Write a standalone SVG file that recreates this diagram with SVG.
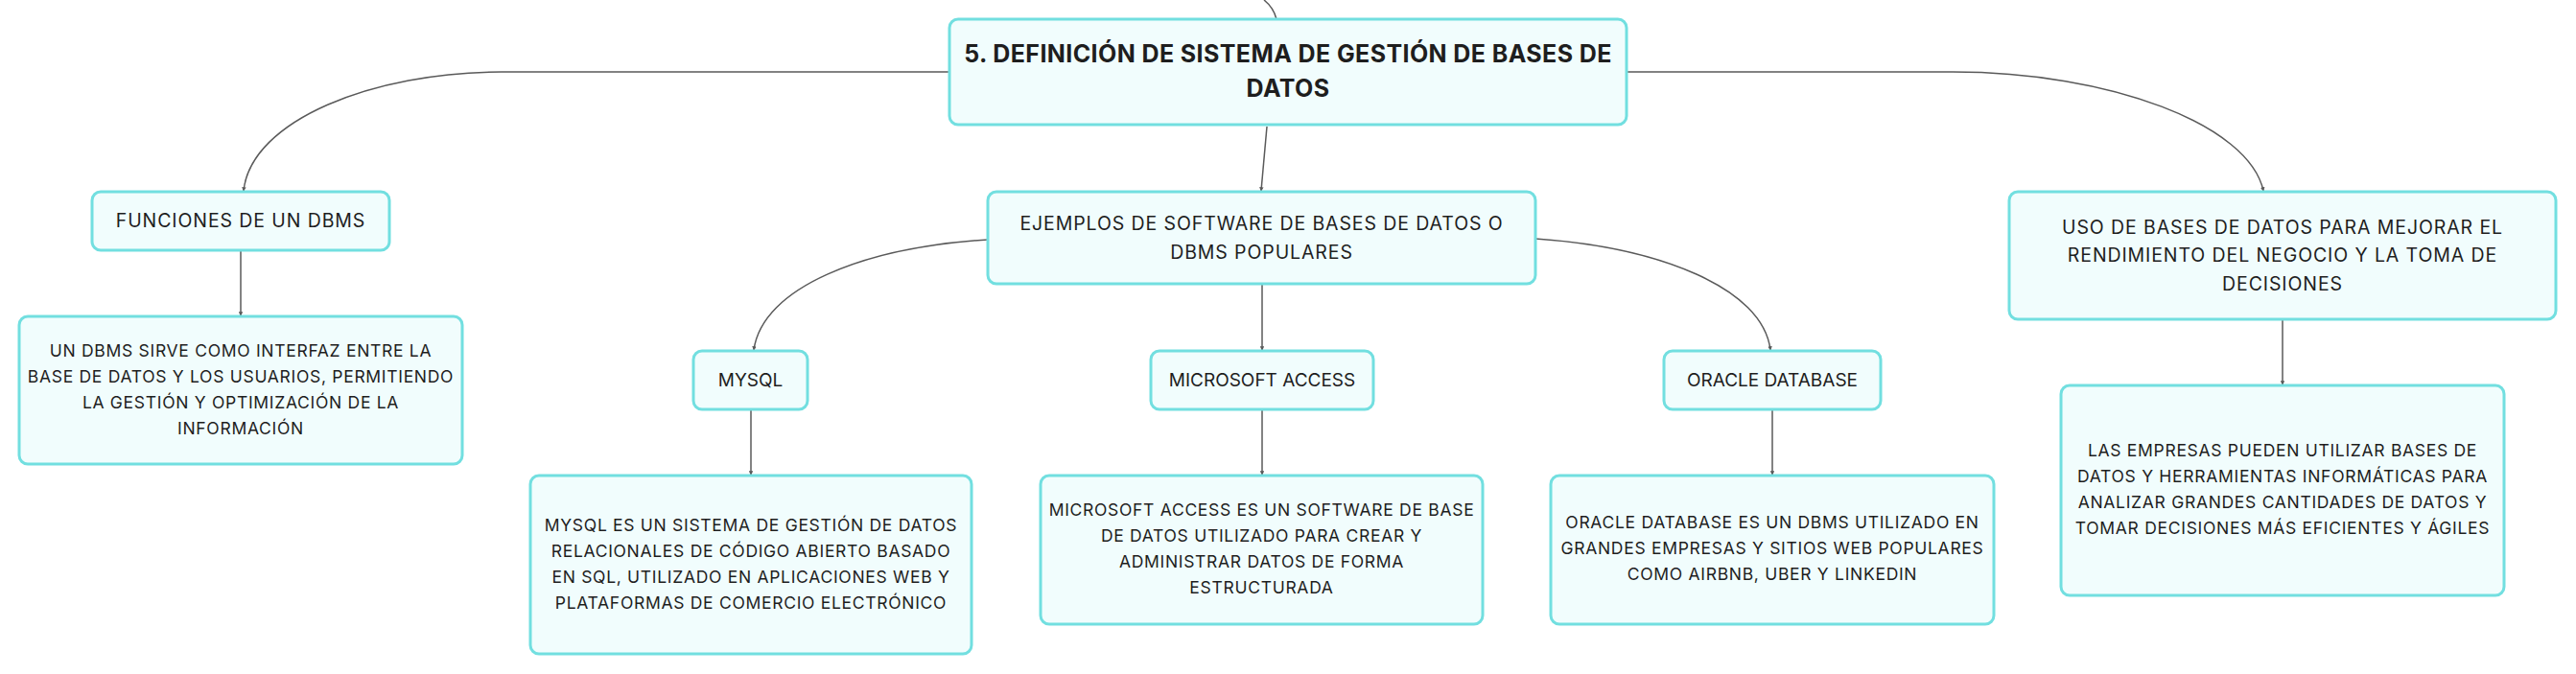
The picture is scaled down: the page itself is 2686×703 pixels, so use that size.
<svg xmlns="http://www.w3.org/2000/svg" width="2686" height="703" viewBox="0 0 2686 703">
<style>
.node rect{fill:#f1fdfd;stroke:#72dfe0;stroke-width:3}
text{font-family:Inter,"Open Sans","DejaVu Sans",sans-serif;fill:#1e1e1e;text-anchor:middle}
.title{font-weight:700;font-size:25px;letter-spacing:0.4px}
.l1{font-size:19.5px;letter-spacing:0.9px}
.l2{font-size:19px}
.d{font-size:17.5px;letter-spacing:0.7px}
.conn path{fill:none;stroke:#5a5a5a;stroke-width:1.5}
</style>
<defs>
<marker id="ah" viewBox="0 0 6 6" refX="5" refY="3" markerWidth="3" markerHeight="3" orient="auto" markerUnits="strokeWidth">
<path d="M0,0 L6,3 L0,6 z" fill="#5a5a5a"/>
</marker>
</defs>
<rect width="2686" height="703" fill="#ffffff"/>
<g id="connectors" class="conn">
<path d="M1318,0 Q1328,8 1331,20"/>
<path d="M1321,132 L1315,199" marker-end="url(#ah)"/>
<path d="M990,75 L523,75 C390,75 262,125 254,199" marker-end="url(#ah)"/>
<path d="M1697,75 L2036,75 C2200,75 2345,130 2360,199" marker-end="url(#ah)"/>
<path d="M251,262 L251,329" marker-end="url(#ah)"/>
<path d="M1030,250 C900,258 795,300 786,365" marker-end="url(#ah)"/>
<path d="M1316,297 L1316,365" marker-end="url(#ah)"/>
<path d="M1601,249 C1730,258 1838,300 1846,365" marker-end="url(#ah)"/>
<path d="M783,427 L783,495" marker-end="url(#ah)"/>
<path d="M1316,427 L1316,495" marker-end="url(#ah)"/>
<path d="M1848,427 L1848,495" marker-end="url(#ah)"/>
<path d="M2380,333 L2380,401" marker-end="url(#ah)"/>
</g>
<g id="main" class="node">
<rect x="990" y="20" width="706" height="110" rx="9"/>
<text class="title" x="1343" y="65">5. DEFINICIÓN DE SISTEMA DE GESTIÓN DE BASES DE</text>
<text class="title" x="1343" y="101">DATOS</text>
</g>
<g id="funciones" class="node">
<rect x="96" y="200" width="310" height="61" rx="9"/>
<text class="l1" x="251" y="237">FUNCIONES DE UN DBMS</text>
</g>
<g id="funciones-desc" class="node">
<rect x="20" y="330" width="462" height="154" rx="9"/>
<text class="d" x="251" y="372">UN DBMS SIRVE COMO INTERFAZ ENTRE LA</text>
<text class="d" x="251" y="399">BASE DE DATOS Y LOS USUARIOS, PERMITIENDO</text>
<text class="d" x="251" y="426">LA GESTIÓN Y OPTIMIZACIÓN DE LA</text>
<text class="d" x="251" y="453">INFORMACIÓN</text>
</g>
<g id="ejemplos" class="node">
<rect x="1030" y="200" width="571" height="96" rx="9"/>
<text class="l1" x="1315.5" y="240">EJEMPLOS DE SOFTWARE DE BASES DE DATOS O</text>
<text class="l1" x="1315.5" y="270">DBMS POPULARES</text>
</g>
<g id="mysql" class="node">
<rect x="723" y="366" width="119" height="61" rx="9"/>
<text class="l2" x="782.5" y="403">MYSQL</text>
</g>
<g id="mysql-desc" class="node">
<rect x="553" y="496" width="460" height="186" rx="9"/>
<text class="d" x="783" y="554">MYSQL ES UN SISTEMA DE GESTIÓN DE DATOS</text>
<text class="d" x="783" y="581">RELACIONALES DE CÓDIGO ABIERTO BASADO</text>
<text class="d" x="783" y="608">EN SQL, UTILIZADO EN APLICACIONES WEB Y</text>
<text class="d" x="783" y="635">PLATAFORMAS DE COMERCIO ELECTRÓNICO</text>
</g>
<g id="access" class="node">
<rect x="1200" y="366" width="232" height="61" rx="9"/>
<text class="l2" x="1316" y="403">MICROSOFT ACCESS</text>
</g>
<g id="access-desc" class="node">
<rect x="1085" y="496" width="461" height="155" rx="9"/>
<text class="d" x="1315.5" y="538">MICROSOFT ACCESS ES UN SOFTWARE DE BASE</text>
<text class="d" x="1315.5" y="565">DE DATOS UTILIZADO PARA CREAR Y</text>
<text class="d" x="1315.5" y="592">ADMINISTRAR DATOS DE FORMA</text>
<text class="d" x="1315.5" y="619">ESTRUCTURADA</text>
</g>
<g id="oracle" class="node">
<rect x="1735" y="366" width="226" height="61" rx="9"/>
<text class="l2" x="1848" y="403">ORACLE DATABASE</text>
</g>
<g id="oracle-desc" class="node">
<rect x="1617" y="496" width="462" height="155" rx="9"/>
<text class="d" x="1848" y="551">ORACLE DATABASE ES UN DBMS UTILIZADO EN</text>
<text class="d" x="1848" y="578">GRANDES EMPRESAS Y SITIOS WEB POPULARES</text>
<text class="d" x="1848" y="605">COMO AIRBNB, UBER Y LINKEDIN</text>
</g>
<g id="uso" class="node">
<rect x="2095" y="200" width="570" height="133" rx="9"/>
<text class="l1" x="2380" y="244">USO DE BASES DE DATOS PARA MEJORAR EL</text>
<text class="l1" x="2380" y="273">RENDIMIENTO DEL NEGOCIO Y LA TOMA DE</text>
<text class="l1" x="2380" y="303">DECISIONES</text>
</g>
<g id="uso-desc" class="node">
<rect x="2149" y="402" width="462" height="219" rx="9"/>
<text class="d" x="2380" y="476">LAS EMPRESAS PUEDEN UTILIZAR BASES DE</text>
<text class="d" x="2380" y="503">DATOS Y HERRAMIENTAS INFORMÁTICAS PARA</text>
<text class="d" x="2380" y="530">ANALIZAR GRANDES CANTIDADES DE DATOS Y</text>
<text class="d" x="2380" y="557">TOMAR DECISIONES MÁS EFICIENTES Y ÁGILES</text>
</g>
</svg>
